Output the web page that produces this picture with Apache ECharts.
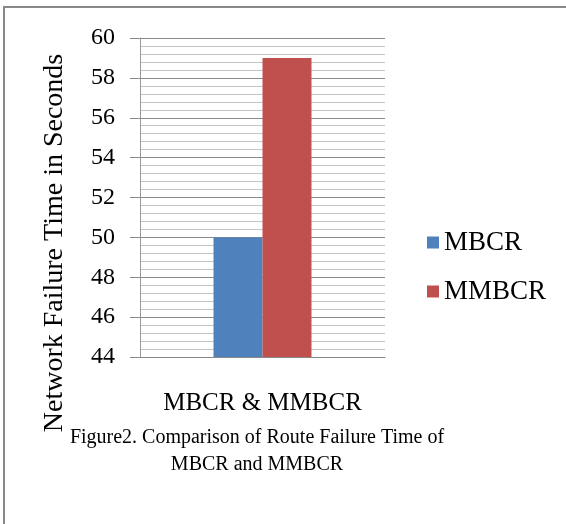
<!DOCTYPE html>
<html>
<head>
<meta charset="utf-8">
<script src="https://cdn.jsdelivr.net/npm/echarts@6/dist/echarts.min.js"></script>
<style>html,body{margin:0;padding:0;background:#fff;}#c{width:566px;height:524px;}</style>
</head>
<body>
<div id="c"></div>
<script>
var categories = ['MBCR & MMBCR'];
var seriesNames = ['MBCR', 'MMBCR'];
var seriesColors = ['#4F81BD', '#C0504D'];
var mbcrValues = [50];
var mmbcrValues = [59];
var yMin = 44, yMax = 60, yInterval = 2;
var yAxisTitle = 'Network Failure Time in Seconds';
var captionLines = ['Figure2. Comparison of Route Failure Time of', 'MBCR and MMBCR'];

var serif = 'Liberation Serif';
var chart = echarts.init(document.getElementById('c'));
chart.setOption({
  animation: false,
  backgroundColor: '#fff',
  textStyle: {fontFamily: serif},
  grid: {left: 140, top: 38, width: 245, height: 319, containLabel: false},
  legend: {
    orient: 'vertical',
    left: 427, top: 229, padding: 0,
    itemWidth: 12, itemHeight: 12, itemGap: 22,
    icon: 'rect',
    textStyle: {fontFamily: serif, fontSize: 27, color: '#000'},
    data: seriesNames
  },
  xAxis: {
    type: 'category',
    data: categories,
    axisLine: {show: true, lineStyle: {color: '#888', width: 1}},
    axisTick: {show: false},
    axisLabel: {fontFamily: serif, fontSize: 25, color: '#000', margin: 34}
  },
  yAxis: {
    type: 'value',
    min: yMin, max: yMax, interval: yInterval,
    axisLine: {show: true, lineStyle: {color: '#999', width: 1}},
    axisTick: {show: true, inside: false, length: 10, lineStyle: {color: '#888'}},
    axisLabel: {fontFamily: serif, fontSize: 24, color: '#000', margin: 25},
    splitLine: {show: true, lineStyle: {color: '#8a8a8a', width: 1}},
    minorTick: {show: false, splitNumber: 5},
    minorSplitLine: {show: true, lineStyle: {color: '#c4c4c4', width: 1}}
  },
  series: [
    {name: seriesNames[0], type: 'bar', data: mbcrValues, barGap: '0%', barCategoryGap: '60%', itemStyle: {color: seriesColors[0]}},
    {name: seriesNames[1], type: 'bar', data: mmbcrValues, barGap: '0%', barCategoryGap: '60%', itemStyle: {color: seriesColors[1]}}
  ],
  graphic: [
    {type: 'rect', shape: {x: 4, y: 7, width: 600, height: 600}, style: {fill: 'none', stroke: '#888', lineWidth: 2}, silent: true, z: -1},
    {type: 'text', x: 55, y: 243, rotation: Math.PI / 2, style: {text: yAxisTitle, font: '28px ' + serif, fill: '#000', textAlign: 'center', textVerticalAlign: 'middle'}},
    {type: 'text', x: 257, y: 438, style: {text: captionLines[0], font: '20px ' + serif, fill: '#000', textAlign: 'center', textVerticalAlign: 'middle'}},
    {type: 'text', x: 257, y: 465, style: {text: captionLines[1], font: '20px ' + serif, fill: '#000', textAlign: 'center', textVerticalAlign: 'middle'}}
  ]
});
</script>
</body>
</html>
